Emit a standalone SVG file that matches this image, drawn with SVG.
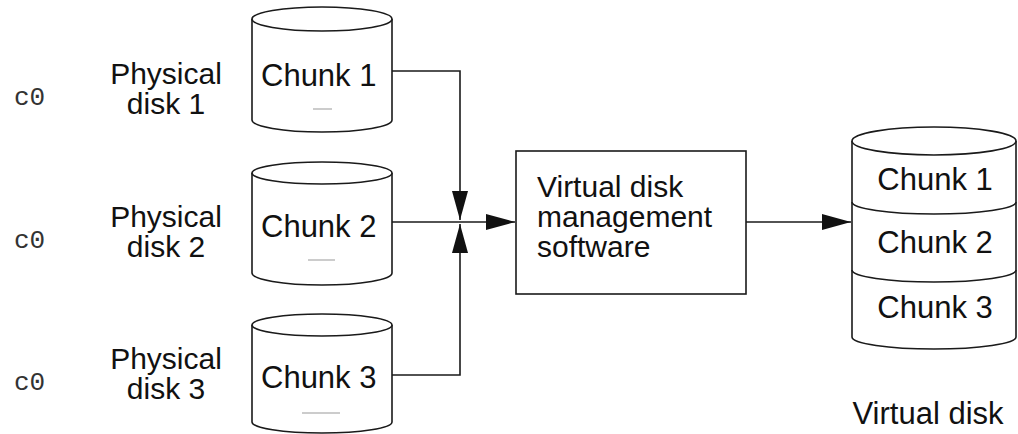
<svg xmlns="http://www.w3.org/2000/svg" width="1018" height="434" viewBox="0 0 1018 434">
<style>
.shape{fill:#fff;stroke:#1a1a1a;stroke-width:1.6}
.line{fill:none;stroke:#1a1a1a;stroke-width:1.6}
.t{font-family:"Liberation Sans",Arial,sans-serif;font-size:31px;fill:#111}
.s{font-size:30px}
.m{font-family:"Liberation Mono","Courier New",monospace;font-size:26px;fill:#333}
.ghost{stroke:#bbb;stroke-width:1.5}
</style>
<defs>
<marker id="arr" markerUnits="userSpaceOnUse" markerWidth="30" markerHeight="18" refX="29" refY="8" orient="auto" viewBox="0 0 30 18">
<path d="M0,0 L29,8 L0,16 z" fill="#111"/>
</marker>
</defs>
<rect width="1018" height="434" fill="#fff"/>

<g id="labels">
<text class="m" x="14" y="105">c0</text>
<text class="m" x="14" y="248">c0</text>
<text class="m" x="14" y="390">c0</text>
</g>

<g id="pd1-label">
<text class="t s" x="166" y="84" text-anchor="middle">Physical</text>
<text class="t s" x="166" y="114" text-anchor="middle">disk 1</text>
</g>
<g id="pd2-label">
<text class="t s" x="166" y="227" text-anchor="middle">Physical</text>
<text class="t s" x="166" y="257" text-anchor="middle">disk 2</text>
</g>
<g id="pd3-label">
<text class="t s" x="166" y="369" text-anchor="middle">Physical</text>
<text class="t s" x="166" y="399" text-anchor="middle">disk 3</text>
</g>

<g id="disk1">
<path class="shape" d="M252,19 L252,120 A70,12 0 0 0 392,120 L392,19"/>
<ellipse class="shape" cx="322" cy="19" rx="70" ry="12"/>
<text class="t" x="261" y="86">Chunk 1</text>
<line class="ghost" x1="313" y1="109" x2="332" y2="109"/>
</g>
<g id="disk2">
<path class="shape" d="M252,173 L252,273 A70,12 0 0 0 392,273 L392,173"/>
<ellipse class="shape" cx="322" cy="173" rx="70" ry="11"/>
<text class="t" x="261" y="237">Chunk 2</text>
<line class="ghost" x1="308" y1="260" x2="335" y2="260"/>
</g>
<g id="disk3">
<path class="shape" d="M252,325 L252,422 A70,11 0 0 0 392,422 L392,325"/>
<ellipse class="shape" cx="322" cy="325" rx="70" ry="11"/>
<text class="t" x="261" y="388">Chunk 3</text>
<line class="ghost" x1="302" y1="413" x2="340" y2="413"/>
</g>

<g id="software">
<rect class="shape" x="516" y="151" width="230" height="143"/>
<text class="t s" x="537" y="197">Virtual disk</text>
<text class="t s" x="537" y="227">management</text>
<text class="t s" x="537" y="257">software</text>
</g>

<g id="vdisk">
<path class="shape" d="M852,141 L852,337 A82,12 0 0 0 1016,337 L1016,141"/>
<ellipse class="shape" cx="934" cy="141" rx="82" ry="14"/>
<path class="line" d="M852,202 A82,12 0 0 0 1016,202"/>
<path class="line" d="M852,270 A82,12 0 0 0 1016,270"/>
<text class="t" x="935" y="190" text-anchor="middle">Chunk 1</text>
<text class="t" x="935" y="253" text-anchor="middle">Chunk 2</text>
<text class="t" x="935" y="318" text-anchor="middle">Chunk 3</text>
<text class="t" x="928" y="424" text-anchor="middle">Virtual disk</text>
</g>

<g id="connectors">
<path class="line" d="M392,71 H460 V220" marker-end="url(#arr)"/>
<path class="line" d="M392,222 H515" marker-end="url(#arr)"/>
<path class="line" d="M392,375 H460 V224" marker-end="url(#arr)"/>
<path class="line" d="M746,222 H851" marker-end="url(#arr)"/>
</g>
</svg>
